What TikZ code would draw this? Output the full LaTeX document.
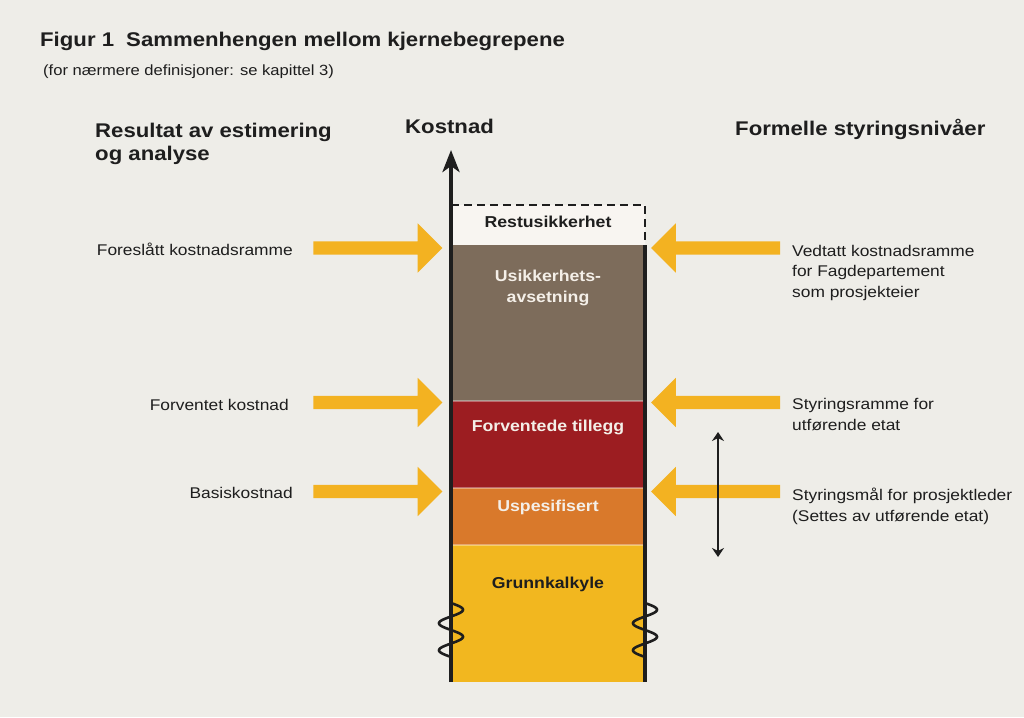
\documentclass[tikz,border=0pt]{standalone}
\usepackage{fontspec}
\setmainfont{Liberation Sans}[FakeStretch=1.12]
\usetikzlibrary{positioning,shapes.arrows,arrows.meta}
\definecolor{bg}{HTML}{EEEDE8}
\definecolor{ink}{HTML}{1E1E1E}
\definecolor{paper}{HTML}{F4EFE8}
\definecolor{usik}{HTML}{7D6C5B}
\definecolor{tillegg}{HTML}{9C1D21}
\definecolor{uspes}{HTML}{D9792B}
\definecolor{grunn}{HTML}{F2B71F}
\definecolor{pil}{HTML}{F3B221}

\begin{document}
\begin{tikzpicture}[x=1pt,y=-1pt,
		txt/.style={inner sep=0pt,text=ink,font=\fontsize{15.5}{20.5}\selectfont},
		head/.style={inner sep=0pt,text=ink,font=\bfseries\fontsize{19.8}{23}\selectfont},
		lyr/.style={inner sep=0pt,text=paper,font=\bfseries\fontsize{15.8}{21}\selectfont},
		fatarr/.style={single arrow,fill=pil,draw=none,inner sep=6.5pt,minimum height=129pt,
			minimum width=49pt,single arrow head extend=18pt},
		sep/.style={white,opacity=.35,line width=1.5pt}]
		\fill[bg] (0,0) rectangle (1024,717);
		% titles
		\node[head,anchor=base west] (title) at (40,46) {Figur 1\hspace{.3em} Sammenhengen mellom kjernebegrepene};
		\node[txt,font=\fontsize{14.8}{18}\selectfont,anchor=base west] (sub) at (43,75) {(for nærmere definisjoner: se kapittel 3)};
		\node[head,anchor=base west,align=left] (res) at (95,160) {Resultat av estimering\\og analyse};
		\node[head,anchor=base west] (kost) at (405,133) {Kostnad};
		\node[head,anchor=base west] (form) at (735,135) {Formelle styringsnivåer};
		% column
		\fill[paper!60!white] (451,205) rectangle (645,245);
		\fill[usik] (451,245) rectangle (645,401);
		\fill[tillegg] (451,401) rectangle (645,488);
		\fill[uspes] (451,488) rectangle (645,545);
		\fill[grunn] (451,545) rectangle (645,682);
		\draw[sep] (451,401) -- (645,401);
		\draw[sep] (451,488) -- (645,488);
		\draw[sep] (451,545) -- (645,545);
		\draw[ink,line width=2pt,dash pattern=on 8pt off 5pt] (451,205) -- (645,205) -- (645,245);
		\draw[ink,line width=3.5pt] (645,245) -- (645,682);
		\draw[ink,line width=4pt,-{Stealth[length=22pt,width=17pt,inset=6pt]}] (451,682) -- (451,150);
		\foreach \x in {451,645}{
			\draw[ink,line width=2.6pt,smooth,domain=0:720,samples=90,variable=\t]
				plot ({\x+12*sin(\t)},{603+0.075*\t});
		}
		% layer labels
		\node[lyr,text=ink,anchor=base] (rest) at (548,227) {Restusikkerhet};
		\node[lyr,anchor=base,align=center] (avs) at (548,302) {Usikkerhets-\\avsetning};
		\node[lyr,anchor=base] (forv) at (548,431) {Forventede tillegg};
		\node[lyr,anchor=base] (uspl) at (548,511) {Uspesifisert};
		\node[lyr,text=ink,anchor=base] (grl) at (548,588) {Grunnkalkyle};
		% yellow arrows
		\foreach \y/\n in {248/a,402.5/b,491.5/c}{
			\node[fatarr] (l\n) at (374.5,\y) {};
			\node[fatarr,shape border rotate=180] (r\n) at (719,\y) {};
		}
		% left labels
		\node[txt,anchor=base east] (fks) at (293,255) {Foreslått kostnadsramme};
		\node[txt,anchor=base east] (fk) at (289,410) {Forventet kostnad};
		\node[txt,anchor=base east] (bk) at (293,498) {Basiskostnad};
		% right labels
		\node[txt,anchor=base west,align=left] (vks) at (792,297) {Vedtatt kostnadsramme\\for Fagdepartement\\som prosjekteier};
		\node[txt,anchor=base west,align=left] (sr) at (792,430) {Styringsramme for\\utførende etat};
		\node[txt,anchor=base west,align=left] (sm) at (792,521) {Styringsmål for prosjektleder\\(Settes av utførende etat)};
		% span
		\coordinate (spt) at (718,432);
		\coordinate (spb) at (718,557);
		\draw[ink,line width=1.2pt,{Stealth[length=9pt,width=12pt]}-{Stealth[length=9pt,width=12pt]}] (spt) -- (spb);
	\end{tikzpicture}
\end{document}
